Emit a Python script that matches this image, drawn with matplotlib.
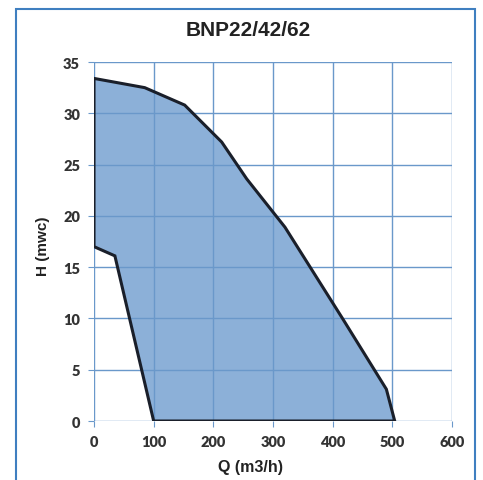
import matplotlib
matplotlib.use("Agg")
import matplotlib.pyplot as plt
from matplotlib.patches import Rectangle

# Operating envelope (polygon) of the pump range
q_values = [0, 85, 152, 214, 256, 320, 417, 490, 504, 100, 35, 0]
h_values = [33.4, 32.5, 30.8, 27.2, 23.6, 18.9, 9.95, 3.1, 0, 0, 16.1, 17.0]

x_ticks = [0, 100, 200, 300, 400, 500, 600]
y_ticks = [0, 5, 10, 15, 20, 25, 30, 35]

title = "BNP22/42/62"
x_label = "Q (m3/h)"
y_label = "H (mwc)"

fig = plt.figure(figsize=(4.83, 4.81), dpi=100)
fig.patch.set_facecolor("white")

# Outer blue frame
frame = Rectangle((16 / 483, -0.05), (475 - 16) / 483, 1.05 - 10 / 481,
                  transform=fig.transFigure, fill=False,
                  edgecolor="#3f7fc0", linewidth=1.5)
fig.add_artist(frame)

ax = fig.add_axes([94 / 483, 1 - 422 / 481, (452 - 94) / 483, (422 - 63) / 481])

ax.fill(q_values, h_values, facecolor="#8cb0d8", edgecolor="none", zorder=1)
ax.fill(q_values, h_values, facecolor="none", edgecolor="#1a1f2a",
        linewidth=2.2, zorder=3)

ax.set_xlim(0, 600)
ax.set_ylim(0, 35)
ax.set_xticks(x_ticks)
ax.set_yticks(y_ticks)
ax.set_axisbelow(False)
ax.grid(True, color="#6a98ca", linewidth=1.0, zorder=2)
for s in ax.spines.values():
    s.set_visible(False)
ax.tick_params(axis="both", length=4, color="#6a98ca", labelsize=10.5,
               labelcolor="#333333", pad=6)
for lab in ax.get_xticklabels() + ax.get_yticklabels():
    lab.set_fontweight("heavy")
    lab.set_family("Lato")

fig.text(248 / 483, 1 - 31 / 481, title, ha="center", va="center",
         fontsize=15, fontweight="bold", color="#222222", family="Liberation Sans")
fig.text(250 / 483, 1 - 468 / 481, x_label, ha="center", va="center",
         fontsize=11.5, fontweight="bold", color="#222222", family="Liberation Sans")
fig.text(43 / 483, 1 - 246 / 481, y_label, ha="center", va="center",
         rotation=90, fontsize=11, fontweight="bold", color="#222222",
         family="Liberation Sans")

fig.savefig("out.png", dpi=100)
